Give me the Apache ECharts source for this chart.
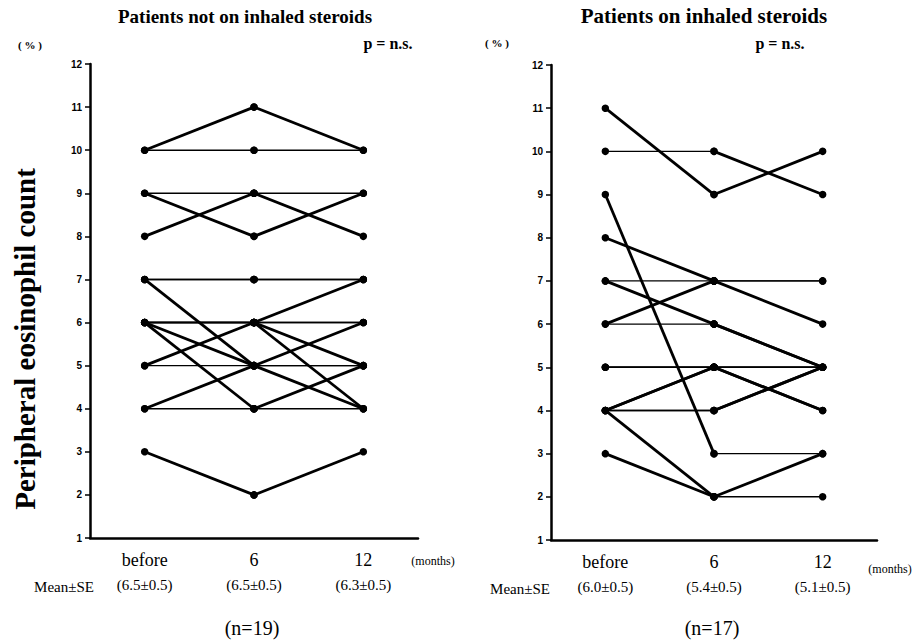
<!DOCTYPE html>
<html><head><meta charset="utf-8">
<script src="https://cdn.jsdelivr.net/npm/echarts@6/dist/echarts.min.js"></script>
<style>html,body{margin:0;padding:0;background:#fff}#c{width:918px;height:643px}</style>
</head><body><div id="c"></div>
<script>
// ---- data ----
const categories = ['before', '6', '12'];
const leftMeans = ['(6.5±0.5)', '(6.5±0.5)', '(6.3±0.5)'];
const rightMeans = ['(6.0±0.5)', '(5.4±0.5)', '(5.1±0.5)'];
const yMin = 1, yMax = 12, yStep = 1;

// Patients not on inhaled steroids (n=19)
const leftBefore = [10, 10, 9, 9, 8, 7, 7, 7, 6, 6, 6, 6, 6, 6, 5, 5, 4, 4, 3];
const left6m     = [11, 10, 9, 8, 9, 7, 7, 5, 6, 6, 6, 6, 5, 4, 6, 5, 5, 4, 2];
const left12m    = [10, 10, 9, 9, 8, 7, 7, 4, 6, 6, 5, 4, 5, 5, 7, 5, 6, 4, 3];

// Patients on inhaled steroids (n=17)
const rightBefore = [11, 10, 9, 8, 7, 7, 6, 6, 5, 5, 4, 4, 4, 4, 4, 3, 5];
const right6m     = [9, 10, 3, 7, 7, 6, 7, 6, 5, 5, 5, 5, 4, 4, 2, 2, 5];
const right12m    = [10, 9, 3, 6, 7, 5, 7, 5, 5, 5, 4, 4, 5, 5, 3, 2, 5];

// ---- chart ----
const chart = echarts.init(document.getElementById('c'), null, {renderer: 'svg'});
const SERIF = '"Liberation Serif", "Times New Roman", serif';
const SANS = '"Liberation Sans", Arial, sans-serif';

function segSeries(b, m, t, idx) {
  const out = [];
  for (let i = 0; i < b.length; i++) {
    const segs = [[b[i], m[i], '-'], ['-', m[i], t[i]]];
    segs.forEach(function (d, k) {
      const flat = k === 0 ? b[i] === m[i] : m[i] === t[i];
      out.push({
        type: 'line', xAxisIndex: idx, yAxisIndex: idx, data: d,
        symbol: 'circle', symbolSize: 7.5, showSymbol: true,
        itemStyle: {color: '#000'},
        lineStyle: {color: '#000', width: flat ? 1.4 : 2.8},
        connectNulls: false, silent: true, animation: false, z: flat ? 2 : 3
      });
    });
  }
  return out;
}

function xAxis(idx, means) {
  return {
    type: 'category', gridIndex: idx, data: categories, boundaryGap: true,
    axisLine: {lineStyle: {color: '#000', width: 2.5}},
    axisTick: {alignWithLabel: true, length: 4, lineStyle: {color: '#000', width: 1.5}},
    axisLabel: {
      margin: 11, color: '#000',
      formatter: function (v, i) { return '{c|' + v + '}\n{m|' + means[i] + '}'; },
      rich: {
        c: {fontFamily: SERIF, fontSize: 18, lineHeight: 22, color: '#000'},
        m: {fontFamily: SERIF, fontSize: 15, lineHeight: 28, color: '#000'}
      }
    },
    splitLine: {show: false}
  };
}
function yAxis(idx) {
  return {
    type: 'value', gridIndex: idx, min: yMin, max: yMax, interval: yStep,
    axisLine: {show: true, lineStyle: {color: '#000', width: 2.5}},
    axisTick: {show: true, length: 5, lineStyle: {color: '#000', width: 1.5}},
    axisLabel: {fontFamily: SANS, fontSize: 10, fontWeight: 'bold', color: '#000', margin: 8},
    splitLine: {show: false}
  };
}
function txt(text, x, y, font, align, rot) {
  return {
    type: 'text', x: x, y: y, rotation: rot || 0,
    style: {text: text, font: font, fill: '#000', textAlign: align || 'center', textVerticalAlign: 'middle'}
  };
}

chart.setOption({
  backgroundColor: '#fff',
  animation: false,
  grid: [
    {left: 90, top: 64, width: 328, height: 474},
    {left: 551, top: 65, width: 326, height: 475}
  ],
  xAxis: [xAxis(0, leftMeans), xAxis(1, rightMeans)],
  yAxis: [yAxis(0), yAxis(1)],
  series: segSeries(leftBefore, left6m, left12m, 0).concat(segSeries(rightBefore, right6m, right12m, 1)),
  graphic: [
    txt('Patients not on inhaled steroids', 245, 16, 'bold 19px ' + SERIF),
    txt('Patients on inhaled steroids', 704, 16, 'bold 21px ' + SERIF),
    txt('( % )', 30, 45, 'bold 11px ' + SERIF),
    txt('( % )', 497, 43, 'bold 11px ' + SERIF),
    txt('p = n.s.', 388, 43, 'bold 16px ' + SERIF),
    txt('p = n.s.', 780, 43, 'bold 16px ' + SERIF),
    txt('Peripheral eosinophil count', 25, 339, 'bold 29px ' + SERIF, 'center', Math.PI / 2),
    txt('(months)', 433, 561, '12px ' + SERIF),
    txt('(months)', 890, 569, '12px ' + SERIF),
    txt('Mean±SE', 64, 587, '15px ' + SERIF),
    txt('Mean±SE', 520, 589, '15px ' + SERIF),
    txt('(n=19)', 252, 628, '20px ' + SERIF),
    txt('(n=17)', 712, 628, '20px ' + SERIF)
  ]
});
</script>
</body></html>
